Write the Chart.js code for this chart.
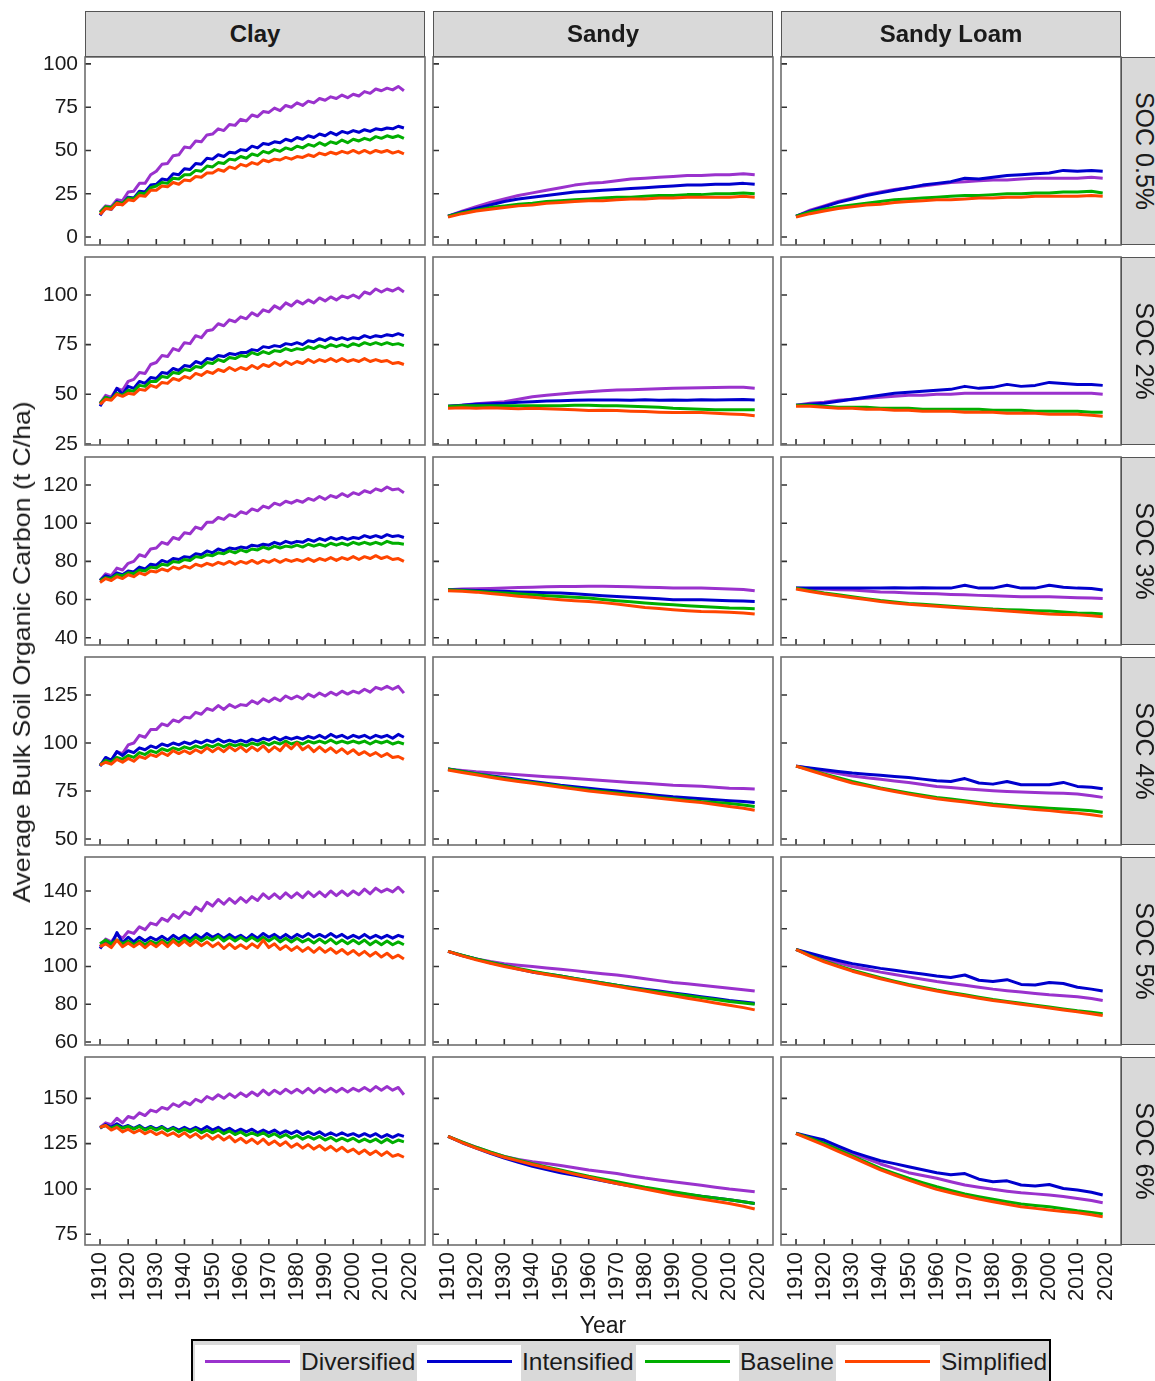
<!DOCTYPE html>
<html>
<head>
<meta charset="utf-8">
<title>Average Bulk Soil Organic Carbon</title>
<script src="https://cdn.jsdelivr.net/npm/chart.js@4.4.1/dist/chart.umd.min.js"></script>
<style>
  html, body { margin: 0; padding: 0; background: #ffffff; }
  #fig { position: relative; width: 1155px; height: 1381px; overflow: hidden;
         font-family: "Liberation Sans", Arial, Helvetica, sans-serif; color: #1a1a1a; }
  #fig canvas { position: absolute; }
  .strip-top { position: absolute; top: 11px; height: 46px; width: 340px; box-sizing: border-box;
               background: #d9d9d9; border: 1.5px solid #555; text-align: center;
               font-weight: bold; font-size: 24px; line-height: 43px; }
  .strip-right { position: absolute; left: 1121px; width: 46px; height: 188px; box-sizing: border-box;
                 background: #d9d9d9; border: 1.5px solid #555; }
  .strip-right span { position: absolute; left: 50%; top: 50%; white-space: nowrap; font-size: 25px;
                      line-height: 1; transform: translate(-50%, -50%) rotate(90deg); }
  .axis-title { position: absolute; white-space: nowrap; line-height: 1; }
  #legend { position: absolute; left: 191px; top: 1339px; width: 860px; height: 70px; box-sizing: border-box;
            border: 2px solid #000; background: #d9d9d9; }
  .lkey { position: absolute; top: 1345px; height: 60px; background: #ffffff; }
  .lline { position: absolute; top: 1360px; height: 3px; width: 85px; }
  .ltext { position: absolute; top: 1348px; font-size: 24.5px; line-height: 28px; white-space: nowrap; }
</style>
</head>
<body>
<div id="fig"></div>
<script>
// ---- categories ----
const textures = ['Clay', 'Sandy', 'Sandy Loam'];
const socLevels = ['SOC 0.5%', 'SOC 2%', 'SOC 3%', 'SOC 4%', 'SOC 5%', 'SOC 6%'];
const seriesNames = ['Diversified', 'Intensified', 'Baseline', 'Simplified'];
const seriesColors = ['#9A32CD', '#0000CD', '#00AE00', '#FF4500'];

// ---- x values ----
const yearsClay = [1910, 1912, 1914, 1916, 1918, 1920, 1922, 1924, 1926, 1928, 1930,
                   1932, 1934, 1936, 1938, 1940, 1942, 1944, 1946, 1948, 1950, 1952,
                   1954, 1956, 1958, 1960, 1962, 1964, 1966, 1968, 1970, 1972, 1974,
                   1976, 1978, 1980, 1982, 1984, 1986, 1988, 1990, 1992, 1994, 1996,
                   1998, 2000, 2002, 2004, 2006, 2008, 2010, 2012, 2014, 2016, 2018];
const yearsSand = [1910, 1915, 1920, 1925, 1930, 1935, 1940, 1945, 1950, 1955, 1960, 1965,
                   1970, 1975, 1980, 1985, 1990, 1995, 2000, 2005, 2010, 2015, 2019];

// ---- tick labels ----
const xTicks = [1910, 1920, 1930, 1940, 1950, 1960, 1970, 1980, 1990, 2000, 2010, 2020];
const yTicks05 = [0, 25, 50, 75, 100];
const yTicks2 = [25, 50, 75, 100];
const yTicks3 = [40, 60, 80, 100, 120];
const yTicks4 = [50, 75, 100, 125];
const yTicks5 = [60, 80, 100, 120, 140];
const yTicks6 = [75, 100, 125, 150];

// ---- series values (t C/ha), order: Diversified, Intensified, Baseline, Simplified ----
const clay05 = [
  [14.5, 18, 17.5, 21.5, 21, 26, 26.5, 31, 31, 36, 38,
   42, 42.5, 47, 47.5, 52, 51.5, 55.5, 55, 59, 59.5, 62.5,
   61.5, 65, 64.5, 68, 67, 70.5, 69.5, 72.5, 72, 74.5, 73,
   76, 75, 77.5, 76, 78.5, 77.5, 80, 79, 81, 80, 82,
   80.5, 82.5, 81.5, 84, 83, 85.5, 84.5, 86, 85, 87, 84.5],
  [12.5, 17, 16, 20.5, 19, 23, 22.5, 26.5, 26, 30, 30.5,
   33.5, 33, 36.5, 36, 39.5, 39, 42.5, 42, 45.5, 45, 47.5,
   46.5, 49, 48.5, 50.5, 50, 52.5, 51.5, 54, 53.5, 55, 54.5,
   56.5, 55.5, 57.5, 56.5, 58.5, 57.5, 59.5, 58.5, 60.5, 59, 61,
   60, 61.5, 60.5, 62, 61, 62.5, 62, 63, 62.5, 64, 63],
  [14, 17.5, 17, 20, 19.5, 22.5, 22, 25.5, 25, 28.5, 29.5,
   31.5, 31, 34, 33.5, 36, 36, 38.5, 38, 41, 40.5, 43,
   42.5, 45, 44.5, 46.5, 45.5, 48, 47, 49.5, 48.5, 50.5, 49.5,
   51.5, 50.5, 52.5, 51.5, 53.5, 52.5, 54.5, 53, 55, 54, 56,
   54.5, 56.5, 55.5, 57, 56, 58, 57, 58.5, 57.5, 58.5, 57],
  [13, 16.5, 16, 19.5, 18.5, 21.5, 21, 24, 23.5, 27, 27,
   29.5, 29, 31.5, 30.5, 33, 32.5, 35, 34.5, 37, 37, 39,
   38, 40.5, 39.5, 42, 41, 43, 42, 44.5, 43.5, 45, 44.5,
   46, 45, 46.5, 46, 47.5, 46.5, 48.5, 47.5, 49, 48, 49.5,
   48.5, 50, 48.5, 50, 48.5, 50, 49, 50, 48.5, 49.5, 48]
];
const sandy05 = [
  [12, 15, 17.5, 20, 22, 24, 25.5, 27, 28.5, 30, 31, 31.5, 32.5, 33.5, 34, 34.5, 35, 35.5, 35.5, 36, 36, 36.5, 36],
  [12, 14.5, 16.5, 18.5, 20.5, 22, 23, 24, 25, 26, 26.5, 27, 27.5, 28, 28.5, 29, 29.5, 30, 30, 30.5, 30.5, 31, 30.5],
  [12, 14, 15.5, 17, 18, 19, 19.5, 20.5, 21, 21.5, 22, 22.5, 23, 23, 23.5, 24, 24, 24.5, 24.5, 25, 25, 25.5, 25],
  [11.5, 13.5, 15, 16, 17, 18, 18.5, 19.5, 20, 20.5, 21, 21, 21.5, 22, 22, 22.5, 22.5, 23, 23, 23, 23, 23.5, 23]
];
const loam05 = [
  [12, 15.5, 18, 20.5, 22.5, 24.5, 26, 27.5, 28.5, 29.5, 30.5, 31.5, 32, 32.5, 33, 33, 33.5, 34, 34, 34, 34, 34.5, 34],
  [12, 15, 17.5, 20, 22, 24, 25.5, 27, 28.5, 30, 31, 32, 34, 33.5, 34.5, 35.5, 36, 36.5, 37, 38.5, 38, 38.5, 38],
  [12, 14.5, 16, 17.5, 18.5, 19.5, 20.5, 21.5, 22, 22.5, 23, 23.5, 24, 24, 24.5, 25, 25, 25.5, 25.5, 26, 26, 26.5, 25.5],
  [11.5, 13.5, 15, 16.5, 17.5, 18.5, 19, 20, 20.5, 21, 21.5, 21.5, 22, 22.5, 22.5, 23, 23, 23.5, 23.5, 23.5, 23.5, 24, 23.5]
];

const clay2 = [
  [45.5, 49.5, 48.5, 53, 52, 56.5, 57.5, 61, 60.5, 65, 66,
   69.5, 69, 73, 72, 76, 75.5, 79.5, 78.5, 82, 82.5, 85.5,
   84.5, 87.5, 86.5, 89, 88, 91, 89.5, 92.5, 91.5, 94.5, 93,
   96, 94.5, 97, 95.5, 97.5, 96, 98.5, 97, 99, 97.5, 99.5,
   98.5, 100, 98.5, 101.5, 100.5, 103, 101.5, 103, 102, 103.5, 101.5],
  [44, 48.5, 47.5, 53, 50, 54, 53, 56.5, 55.5, 58.5, 58,
   61, 60.5, 63, 62, 64.5, 64, 66.5, 65.5, 68, 67.5, 69.5,
   69, 70.5, 70, 71, 71, 72.5, 72, 74, 73.5, 74.5, 74,
   75.5, 75, 76, 75, 77, 76.5, 78, 77, 78.5, 77.5, 78.5,
   77.5, 78.5, 78, 79.5, 78.5, 79.5, 79, 80, 79.5, 80.5, 79.5],
  [45.5, 48.5, 47.5, 50.5, 49.5, 52, 51.5, 54.5, 54, 56.5, 56.5,
   59, 58.5, 61, 60.5, 62.5, 62, 64, 63.5, 66, 65.5, 67.5,
   66.5, 68.5, 68, 69.5, 69, 71, 70, 71.5, 70.5, 72, 71.5,
   73, 72, 73, 72.5, 74, 73, 74.5, 73.5, 75, 74, 75,
   74, 75.5, 74.5, 76, 75, 76, 75, 76, 75, 75.5, 74.5],
  [45, 47.5, 47, 50, 49, 50.5, 50, 52.5, 52, 54.5, 53.5,
   56, 55.5, 58, 57, 59, 58, 60.5, 59.5, 61.5, 60.5, 62.5,
   61.5, 63.5, 62, 63.5, 62.5, 64.5, 63, 65, 64, 66, 64.5,
   66.5, 65, 66.5, 65.5, 67.5, 66, 67.5, 66.5, 68, 66.5, 68,
   66.5, 67.5, 66.5, 68, 66.5, 67.5, 66.5, 67, 65.5, 66, 65]
];
const sandy2 = [
  [44, 44.5, 45.3, 45.8, 46.3, 47.5, 48.8, 49.5, 50.2, 50.8, 51.3, 51.8, 52.2, 52.3, 52.5, 52.8, 53, 53.2, 53.3, 53.4, 53.5, 53.5, 53],
  [44, 44.5, 45, 45.3, 45.5, 46, 46.3, 46.6, 46.8, 47, 47.1, 47.2, 47.2, 47, 47.3, 47, 47.2, 47, 47.3, 47.2, 47.3, 47.4, 47.2],
  [44, 44.3, 44.3, 44.2, 44.3, 44.2, 44.3, 44.2, 44.3, 44.5, 44.5, 44.2, 44.3, 44, 43.8, 43.5, 43, 42.8, 42.5, 42.3, 42.2, 42.2, 42.2],
  [43, 43.2, 43, 43.2, 43, 42.8, 43, 42.7, 42.5, 42.2, 41.8, 42, 41.8, 41.5, 41.3, 41, 40.8, 40.8, 40.8, 40.5, 40.1, 39.8, 39.2]
];
const loam2 = [
  [44.5, 45.5, 46, 47, 47.5, 48, 48.5, 49, 49.5, 49.5, 50, 50, 50.5, 50.5, 50.5, 50.5, 50.5, 50.5, 50.5, 50.5, 50.5, 50.5, 50],
  [44.5, 45, 45.5, 46.5, 47.5, 48.5, 49.5, 50.5, 51, 51.5, 52, 52.5, 54, 53, 53.5, 55, 54, 54.5, 56, 55.5, 55, 55, 54.5],
  [44.5, 44.5, 44, 43.5, 43.5, 43.5, 43, 43, 43, 42.5, 42.5, 42.5, 42.5, 42.5, 42, 42, 42, 41.5, 41.5, 41.5, 41.5, 41, 41],
  [44, 44, 43.5, 43, 43, 42.5, 42.5, 42, 42, 41.5, 41.5, 41.5, 41, 41, 41, 40.5, 40.5, 40.5, 40, 40, 40, 39.5, 39]
];

const clay3 = [
  [70, 73.5, 72.5, 76.5, 75.5, 79, 80, 83.5, 82.5, 86.5, 87,
   90, 89, 92.5, 91.5, 95, 94.5, 98, 97, 100.5, 100.5, 103,
   102, 104.5, 103.5, 106, 105, 107.5, 106.5, 109, 108, 110.5, 109.5,
   111.5, 110.5, 112, 111, 113, 112, 114, 112.5, 114.5, 113.5, 115.5,
   114, 116, 115, 117, 116, 118, 117, 119, 117.5, 118, 116],
  [70, 72.5, 71.5, 74, 73, 75, 74.5, 77, 76, 78.5, 78,
   80.5, 79.5, 81.5, 81, 82.5, 82, 84, 83.5, 85.5, 84.5, 86.5,
   85.5, 87, 86.5, 87.5, 87, 88.5, 88, 89, 88.5, 90, 89,
   90.5, 89.5, 90.5, 90, 91.5, 90.5, 92, 91, 92.5, 91.5, 92.5,
   91.5, 92.5, 92, 93.5, 92.5, 93.5, 92.5, 94, 93, 93.5, 92.5],
  [70, 71.5, 71, 73, 72.5, 74, 73.5, 75.5, 75, 77, 76.5,
   78.5, 78, 80, 79.5, 81, 80.5, 82.5, 82, 83.5, 83, 84.5,
   84, 85.5, 84.5, 86, 85, 86.5, 86, 87.5, 86.5, 88, 87,
   88, 87.5, 88.5, 87.5, 89, 88, 89, 88, 89.5, 88.5, 89.5,
   88.5, 90, 89, 90, 89, 90, 89, 90.5, 89.5, 89.5, 89],
  [69, 71, 70, 72, 71, 73, 72, 74, 73, 75, 74.5,
   76, 75, 77, 76, 77.5, 76.5, 78.5, 77.5, 79, 78, 79.5,
   78.5, 80, 78.5, 80, 79, 80.5, 79, 80.5, 79.5, 81, 79.5,
   81, 80, 81, 80, 81.5, 80, 81.5, 80.5, 82, 80.5, 82,
   81, 82.5, 81, 82.5, 81.5, 83, 81.5, 82.5, 81, 81.5, 80]
];
const sandy3 = [
  [65.2, 65.5, 65.7, 65.8, 66, 66.3, 66.5, 66.7, 66.9, 66.9, 67, 67, 66.9, 66.7, 66.5, 66.3, 66, 66, 66, 65.8, 65.6, 65.3, 64.6],
  [65.2, 65, 64.8, 64.5, 64.3, 64, 63.8, 63.6, 63.4, 63, 62.5, 62, 61.6, 61.2, 60.8, 60.4, 59.9, 59.9, 59.9, 59.6, 59.4, 59.2, 59],
  [65.2, 64.8, 64.3, 63.8, 63.4, 63, 62.5, 62, 61.6, 61.2, 60.8, 60.1, 59.4, 58.8, 58.2, 57.7, 57.3, 56.8, 56.4, 56, 55.6, 55.4, 55.2],
  [64.6, 64.3, 63.9, 63.2, 62.5, 61.8, 61.2, 60.5, 59.9, 59.4, 59, 58.4, 57.7, 56.8, 55.9, 55.3, 54.7, 54.2, 53.8, 53.6, 53.4, 53, 52.4]
];
const loam3 = [
  [66, 65.7, 65.5, 65.2, 65, 64.5, 64, 63.8, 63.5, 63.2, 63, 62.7, 62.5, 62.2, 62, 61.8, 61.5, 61.5, 61.5, 61.2, 61, 60.8, 60.5],
  [66, 66, 66, 66, 66, 66, 66, 66.2, 66, 66.2, 66, 66, 67.5, 66, 66, 67.5, 66, 66, 67.5, 66.5, 66, 65.8, 65],
  [66, 64.7, 63.5, 62.5, 61.5, 60.5, 59.5, 58.7, 58, 57.5, 57, 56.5, 56, 55.5, 55, 54.7, 54.5, 54.2, 54, 53.5, 53, 52.8, 52.5],
  [65.5, 64.2, 63, 62, 61, 60, 59, 58.2, 57.5, 57, 56.5, 56, 55.5, 55, 54.5, 54, 53.5, 53, 52.5, 52.2, 52, 51.5, 51]
];

const clay4 = [
  [88.5, 92, 91, 95.5, 94.5, 99, 100, 104, 103, 107, 107,
   110, 109, 112, 111, 113.5, 113, 116, 115, 118, 117, 119.5,
   117.5, 120, 118.5, 120, 119.5, 122, 120.5, 123, 121.5, 123.5, 122,
   124.5, 123, 124.5, 123, 125.5, 124, 126, 124.5, 126.5, 125, 127,
   125.5, 127, 126, 128, 126.5, 129, 128, 129.5, 128, 129.5, 126],
  [88, 92.5, 91, 95.5, 93.5, 96, 95, 97.5, 96.5, 98.5, 97.5,
   99.5, 98.5, 100, 99, 100.5, 99.5, 101, 100, 101.5, 100.5, 102,
   100.5, 101.5, 100.5, 101.5, 100.5, 102, 101, 102.5, 101.5, 103, 101.5,
   103, 102, 103, 102, 103.5, 102.5, 104, 102.5, 104.5, 103, 104,
   102.5, 104, 103, 104, 102.5, 104, 103, 104, 102.5, 104.5, 103],
  [88.5, 91, 90, 92.5, 91.5, 93.5, 92.5, 95, 94, 96, 95,
   97, 96, 97.5, 96.5, 98, 97, 98.5, 97.5, 99, 98, 99.5,
   98, 99.5, 98.5, 99.5, 98.5, 100, 99, 100.5, 99, 100.5, 99.5,
   101, 99.5, 100.5, 99.5, 101, 100, 101, 100, 101.5, 100, 101,
   100, 101, 100, 101, 99.5, 101, 100, 101, 99.5, 100.5, 99.5],
  [88.5, 90, 89, 91.5, 90, 92, 90.5, 93, 92, 94, 93,
   95, 93.5, 96, 94.5, 96, 94.5, 96.5, 95, 97.5, 95.5, 97.5,
   95.5, 98, 96, 98, 95.5, 98, 96, 98.5, 95.5, 98, 96,
   99.5, 97, 100, 96.5, 98.5, 95.5, 98, 95.5, 97.5, 95, 97,
   94.5, 96.5, 94, 95.5, 93.5, 95, 93, 94.5, 92.5, 93, 91.5]
];
const sandy4 = [
  [86.5, 85.7, 85, 84.5, 84, 83.5, 83, 82.5, 82, 81.5, 81, 80.5, 80, 79.5, 79, 78.5, 78, 77.8, 77.5, 77, 76.5, 76.3, 76],
  [86.5, 85.2, 84, 83, 82, 81, 80, 79, 78, 77.2, 76.5, 75.7, 75, 74.2, 73.5, 72.7, 72, 71.5, 71, 70.5, 70, 69.5, 69],
  [86.5, 85.2, 84, 82.7, 81.5, 80.5, 79.5, 78.5, 77.5, 76.5, 75.5, 74.7, 74, 73.2, 72.5, 71.7, 71, 70.2, 69.5, 69, 68.5, 67.7, 67],
  [86, 84.7, 83.5, 82.2, 81, 80, 79, 78, 77, 76, 75, 74.2, 73.5, 72.7, 72, 71.2, 70.5, 69.7, 69, 68, 67, 66, 65]
];
const loam4 = [
  [88, 86.7, 85.4, 84.1, 82.8, 81.9, 81.1, 80.2, 79.4, 78.4, 77.4, 76.8, 76.2, 75.7, 75.2, 74.8, 74.5, 74.2, 74, 73.8, 73.5, 72.6, 71.7],
  [87.9, 87, 86.1, 85.2, 84.4, 83.8, 83.2, 82.6, 82.1, 81.2, 80.4, 80, 81.5, 79.2, 78.6, 80, 78.3, 78.3, 78.3, 79.5, 77.4, 77, 76.2],
  [88, 86, 83.9, 81.9, 80, 78.3, 76.6, 75.3, 74, 72.8, 71.7, 70.8, 70, 69.1, 68.2, 67.6, 67, 66.5, 66.1, 65.7, 65.3, 64.7, 64],
  [88, 85.7, 83.5, 81.3, 79.2, 77.7, 76.2, 74.8, 73.4, 72.2, 71, 70.1, 69.3, 68.4, 67.5, 66.8, 66.1, 65.4, 64.8, 64.1, 63.5, 62.6, 61.8]
];

const clay5 = [
  [110.5, 114.5, 113, 117, 115, 118.5, 117.5, 121, 119.5, 123, 122,
   125.5, 124, 127.5, 125.5, 129, 127.5, 131.5, 129.5, 134, 132, 135.5,
   133, 136, 133.5, 136.5, 134, 137, 135, 138.5, 136, 138.5, 136,
   139, 136.5, 139, 136.5, 139.5, 137, 139.5, 137, 140, 137.5, 140,
   137.5, 140, 138, 141, 138.5, 141.5, 139.5, 141, 139.5, 142, 139],
  [109.5, 113.5, 111.5, 118, 112.5, 115.5, 113, 115.5, 113.5, 115.5, 114,
   116, 114, 116.5, 114.5, 116.5, 114.5, 117, 115, 117.5, 115.5, 117,
   115, 117, 115, 116.5, 114.5, 117, 115, 117.5, 115.5, 117, 115,
   117, 115, 117, 115.5, 117.5, 115.5, 117, 115.5, 117.5, 115.5, 117,
   115, 116.5, 115, 117, 115, 116.5, 115, 116.5, 115, 116.5, 115.5],
  [112, 114, 112, 114, 112, 113.5, 111.5, 113.5, 111.5, 113.5, 112,
   114, 112, 114.5, 112.5, 115, 113, 115.5, 113.5, 115.5, 114, 116,
   113.5, 115.5, 113.5, 115.5, 113.5, 115.5, 113.5, 115.5, 113.5, 115.5, 113,
   115, 113, 115, 113, 114.5, 112.5, 114.5, 112.5, 114.5, 112, 114,
   112, 114, 112, 114, 111.5, 113.5, 111.5, 113.5, 111.5, 113, 111.5],
  [110.5, 112, 110, 114, 110.5, 112.5, 110.5, 112.5, 110, 112.5, 110.5,
   113, 110.5, 113.5, 111, 113.5, 111, 113.5, 111, 113, 110.5, 112.5,
   109.5, 112, 109.5, 111.5, 109.5, 112, 110, 114, 110, 112, 109,
   111, 108.5, 110.5, 108, 110, 107.5, 110, 107.5, 109.5, 107, 109,
   106.5, 108.5, 106, 108, 105.5, 107.5, 105, 107, 104.5, 106, 104]
];
const sandy5 = [
  [108, 105.8, 104, 102.6, 101.5, 100.7, 100, 99.2, 98.5, 97.8, 97, 96.2, 95.5, 94.5, 93.5, 92.5, 91.5, 90.8, 90, 89.2, 88.5, 87.7, 87],
  [108, 105.8, 104, 102, 100.5, 98.6, 97, 96, 95, 93.7, 92.5, 91.2, 90, 89, 88, 87, 86, 85, 84, 83, 82, 81.2, 80.5],
  [108, 106, 104, 102.2, 100.5, 99, 97.5, 96.2, 95, 93.7, 92.5, 91.2, 90, 88.7, 87.5, 86.5, 85.5, 84.5, 83.5, 82.5, 81.5, 80.7, 80],
  [108, 105.6, 103.5, 101.7, 100, 98.5, 97, 95.7, 94.5, 93.2, 92, 90.7, 89.5, 88.2, 87, 85.7, 84.5, 83.2, 82, 80.7, 79.5, 78.2, 77]
];
const loam5 = [
  [109, 106.3, 104, 102, 100, 98.5, 97, 95.7, 94.5, 93.2, 92, 91, 90, 89, 88, 87.2, 86.5, 85.7, 85, 84.5, 84, 83, 82],
  [109, 107, 105, 103.2, 101.5, 100.2, 99, 98, 97, 96, 95, 94.2, 95.5, 92.7, 92, 93, 90.5, 90.2, 91.5, 91, 89, 88, 87],
  [109, 105.8, 103, 100.4, 98, 96, 94, 92.2, 90.5, 89, 87.5, 86.2, 85, 83.7, 82.5, 81.5, 80.5, 79.5, 78.5, 77.5, 76.5, 75.7, 75],
  [109, 105.5, 102.5, 100, 97.5, 95.5, 93.5, 91.7, 90, 88.5, 87, 85.7, 84.5, 83.2, 82, 81, 80, 79, 78, 77, 76, 75, 74]
];

const clay6 = [
  [134, 136.5, 135.5, 139, 136.5, 140, 139, 142, 140.5, 143.5, 142.5,
   145, 144, 147, 145.5, 148, 146.5, 149.5, 148, 151, 149.5, 152,
   150, 152.5, 150.5, 153, 151, 153.5, 151.5, 154.5, 152, 154.5, 152.5,
   155, 153, 155, 153, 155.5, 153, 155.5, 153.5, 155.5, 153.5, 155.5,
   153.5, 155.5, 154, 156, 154, 156.5, 154.5, 156.5, 154.5, 156, 152],
  [133.5, 135.5, 134, 136, 134, 135, 133.5, 135, 133, 134.5, 133,
   134.5, 132.5, 134, 132.5, 134, 132.5, 134, 132.5, 134.5, 132.5, 134,
   132, 133.5, 131.5, 133, 131.5, 133, 131, 132.5, 131, 132.5, 130.5,
   132, 130.5, 132, 130, 131.5, 130, 131.5, 129.5, 131, 129.5, 131,
   129.5, 130.5, 129, 130.5, 129, 130.5, 128.5, 130, 128.5, 130, 129],
  [134, 135, 133.5, 135, 133.5, 134.5, 133, 134.5, 132.5, 134, 132.5,
   134, 132, 133.5, 131.5, 133, 131.5, 133, 131, 132.5, 131, 132.5,
   130.5, 132, 130, 131.5, 129.5, 131, 129.5, 131, 129, 130.5, 128.5,
   130, 128, 129.5, 127.5, 129, 127.5, 129, 127, 128.5, 126.5, 128,
   126.5, 128, 126, 127.5, 126, 127.5, 125.5, 127.5, 125.5, 127, 126],
  [134, 135, 132.5, 134, 131.5, 133, 131, 132.5, 130.5, 132, 130,
   131.5, 129.5, 131, 129, 131, 128.5, 130.5, 128, 130, 127.5, 129.5,
   127, 129, 126, 128, 125.5, 127.5, 125, 127.5, 124.5, 126.5, 124,
   126, 123, 125, 122.5, 124.5, 122, 124, 121.5, 123.5, 121, 123,
   120.5, 122, 119.5, 121.5, 119, 121, 118.5, 120.5, 118, 119, 117.5]
];
const sandy6 = [
  [129, 125.8, 123, 120.3, 118, 116.3, 115, 114, 113, 111.7, 110.5, 109.5, 108.5, 107.2, 106, 105, 104, 103, 102, 101, 100, 99.2, 98.5],
  [129, 125.5, 122.5, 119.6, 117, 114.7, 112.5, 110.7, 109, 107.5, 106, 104.5, 103, 101.7, 100.5, 99.2, 98, 97, 96, 95, 94, 93, 92],
  [129, 126, 123, 120.4, 118, 116, 114, 112.2, 110.5, 108.7, 107, 105.5, 104, 102.5, 101, 99.7, 98.5, 97.2, 96, 95, 94, 93, 92],
  [129, 125.6, 122.5, 119.9, 117.5, 115.5, 113.5, 111.7, 110, 108.2, 106.5, 104.7, 103, 101.5, 100, 98.5, 97, 95.7, 94.5, 93.2, 92, 90.5, 89]
];
const loam6 = [
  [130.7, 128.3, 126, 122.8, 119.7, 116.7, 113.8, 111.4, 109, 107.4, 105.9, 104, 102.2, 101, 99.8, 98.8, 97.9, 97.3, 96.7, 95.8, 94.8, 93.6, 92.4],
  [130.7, 128.8, 127, 123.7, 120.5, 118, 115.6, 114, 112.3, 110.6, 109, 107.9, 108.5, 105.4, 104, 104.5, 102.2, 101.7, 102.5, 100.3, 99.4, 98.2, 96.7],
  [130.7, 128, 125.2, 121.7, 118.2, 114.8, 111.4, 108.6, 105.9, 103.5, 101.2, 99.2, 97.2, 95.7, 94.3, 93, 91.7, 90.9, 90.2, 89.1, 88, 87.1, 86.2],
  [130.5, 127.3, 124.2, 120.8, 117.5, 114, 110.5, 107.7, 104.9, 102.3, 99.8, 97.9, 96.1, 94.5, 93, 91.6, 90.2, 89.3, 88.4, 87.6, 86.9, 85.8, 84.7]
];

// ---- facet grid: rows = SOC level, columns = texture ----
const gridData = [
  [clay05, sandy05, loam05],
  [clay2, sandy2, loam2],
  [clay3, sandy3, loam3],
  [clay4, sandy4, loam4],
  [clay5, sandy5, loam5],
  [clay6, sandy6, loam6]
];
const rowTicks = [yTicks05, yTicks2, yTicks3, yTicks4, yTicks5, yTicks6];

// ---- axis ranges per row and panel geometry ----
const rowRanges = [[-4.6, 104.0], [24.5, 119.1], [36.2, 134.7], [46.9, 144.8], [58.4, 158.0], [69.1, 172.8]];
const xRange = [1904.66, 2025.5];
const colLeft = [85, 433, 781];
const rowTop = [57, 257, 457, 657, 857, 1057];
const panelW = 340, panelH = 188;

Chart.defaults.font.family = '"Liberation Sans", Arial, Helvetica, sans-serif';
Chart.defaults.color = '#1a1a1a';

// panel border plus inward tick marks, placed through the chart's scales
const panelFrame = {
  id: 'panelFrame',
  afterDraw(chart) {
    const { ctx, chartArea: a, scales } = chart;
    ctx.save();
    ctx.strokeStyle = '#333333';
    ctx.lineWidth = 1.6;
    ctx.beginPath();
    scales.y.ticks.forEach(t => {
      const p = scales.y.getPixelForValue(t.value);
      ctx.moveTo(a.left, p); ctx.lineTo(a.left + 6, p);
    });
    scales.x.ticks.forEach(t => {
      const p = scales.x.getPixelForValue(t.value);
      ctx.moveTo(p, a.bottom); ctx.lineTo(p, a.bottom - 6);
    });
    ctx.stroke();
    ctx.strokeStyle = '#6e6e6e';
    ctx.lineWidth = 1.6;
    ctx.strokeRect(a.left, a.top, a.right - a.left, a.bottom - a.top);
    ctx.restore();
  }
};

const fig = document.getElementById('fig');

function zeroPad(s) { s.paddingLeft = 0; s.paddingRight = 0; s.paddingTop = 0; s.paddingBottom = 0; }

gridData.forEach((rowPanels, r) => {
  rowPanels.forEach((series, c) => {
    const years = c === 0 ? yearsClay : yearsSand;
    const firstCol = c === 0, lastRow = r === gridData.length - 1;
    const mL = firstCol ? 62 : 10, mR = 10, mT = 16, mB = lastRow ? 72 : 16;
    const cv = document.createElement('canvas');
    cv.width = mL + panelW + mR;
    cv.height = mT + panelH + mB;
    cv.style.left = (colLeft[c] - mL) + 'px';
    cv.style.top = (rowTop[r] - mT) + 'px';
    cv.style.width = cv.width + 'px';
    cv.style.height = cv.height + 'px';
    fig.appendChild(cv);

    new Chart(cv, {
      type: 'line',
      data: {
        datasets: series.map((vals, k) => ({
          label: seriesNames[k],
          data: years.map((yr, i) => ({ x: yr, y: vals[i] })),
          borderColor: seriesColors[k],
          backgroundColor: seriesColors[k],
          borderWidth: 3,
          borderJoinStyle: 'round',
          pointRadius: 0,
          tension: 0,
          fill: false,
          order: series.length - 1 - k
        }))
      },
      options: {
        responsive: false,
        animation: false,
        events: [],
        devicePixelRatio: 1,
        layout: { padding: { left: firstCol ? 0 : mL, right: mR, top: mT, bottom: lastRow ? 0 : mB } },
        plugins: { legend: { display: false }, tooltip: { enabled: false } },
        scales: {
          x: {
            type: 'linear', min: xRange[0], max: xRange[1],
            grid: { display: false, drawTicks: false },
            border: { display: false },
            afterBuildTicks: s => { s.ticks = xTicks.map(v => ({ value: v })); },
            ticks: {
              display: lastRow, autoSkip: false, minRotation: 90, maxRotation: 90,
              padding: 7, color: '#1a1a1a', font: { size: 22 },
              callback: v => String(v)
            },
            afterFit: s => { s.height = lastRow ? mB : 0; zeroPad(s); }
          },
          y: {
            type: 'linear', min: rowRanges[r][0], max: rowRanges[r][1],
            grid: { display: false, drawTicks: false },
            border: { display: false },
            afterBuildTicks: s => { s.ticks = rowTicks[r].map(v => ({ value: v })); },
            ticks: {
              display: firstCol, autoSkip: false, padding: 7, color: '#1a1a1a',
              font: { size: 21 }, callback: v => String(v)
            },
            afterFit: s => { s.width = firstCol ? mL : 0; zeroPad(s); }
          }
        }
      },
      plugins: [panelFrame]
    });
  });
});

// facet strips
textures.forEach((name, c) => {
  const d = document.createElement('div');
  d.className = 'strip-top';
  d.style.left = colLeft[c] + 'px';
  d.textContent = name;
  fig.appendChild(d);
});
socLevels.forEach((name, r) => {
  const d = document.createElement('div');
  d.className = 'strip-right';
  d.style.top = rowTop[r] + 'px';
  const s = document.createElement('span');
  s.textContent = name;
  d.appendChild(s);
  fig.appendChild(d);
});

// axis titles
const yTitle = document.createElement('div');
yTitle.className = 'axis-title';
yTitle.style.cssText = 'left:22px;top:652px;font-size:24px;transform:translate(-50%,-50%) rotate(-90deg) scaleX(1.11);';
yTitle.textContent = 'Average Bulk Soil Organic Carbon (t C/ha)';
fig.appendChild(yTitle);

const xTitle = document.createElement('div');
xTitle.className = 'axis-title';
xTitle.style.cssText = 'left:603px;top:1325px;font-size:23px;transform:translate(-50%,-50%);';
xTitle.textContent = 'Year';
fig.appendChild(xTitle);

// legend
const legend = document.createElement('div');
legend.id = 'legend';
fig.appendChild(legend);
const keyBoxes = [[195, 105], [417, 104], [636, 103], [836, 104]];
const keyLines = [205, 427, 645, 845];
const keyTexts = [301, 522, 740, 941];
seriesNames.forEach((name, k) => {
  const box = document.createElement('div');
  box.className = 'lkey';
  box.style.left = keyBoxes[k][0] + 'px';
  box.style.width = keyBoxes[k][1] + 'px';
  fig.appendChild(box);
  const ln = document.createElement('div');
  ln.className = 'lline';
  ln.style.left = keyLines[k] + 'px';
  ln.style.background = seriesColors[k];
  fig.appendChild(ln);
  const tx = document.createElement('div');
  tx.className = 'ltext';
  tx.style.left = keyTexts[k] + 'px';
  tx.textContent = name;
  fig.appendChild(tx);
});
</script>
</body>
</html>
